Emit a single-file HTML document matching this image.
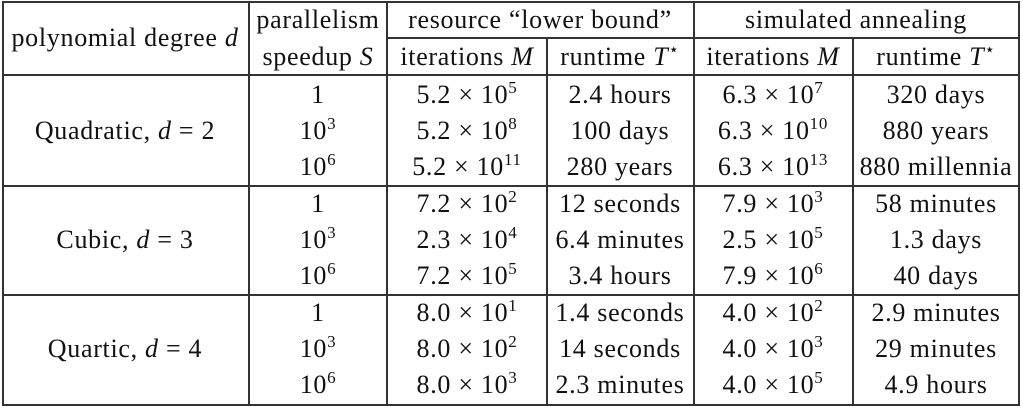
<!DOCTYPE html>
<html><head><meta charset="utf-8"><style>
body{margin:0;width:1023px;height:408px;background:#fff;overflow:hidden;position:relative;font-family:"Liberation Serif",serif;font-size:26px;color:#111}
.h,.v{position:absolute;background:#333}
.h{height:2px}.v{width:2px}
.t{position:absolute;height:30px;line-height:30px;text-align:center;white-space:nowrap;transform:translate(-50%,-50%);font-family:"Liberation Serif",serif;letter-spacing:0.7px}
sup{font-size:17px;vertical-align:10px;line-height:0}
i{font-family:"Liberation Serif",serif}
</style></head><body>
<div class="h" style="left:2px;width:1018px;top:1px"></div>
<div class="h" style="left:387px;width:633px;top:37px"></div>
<div class="h" style="left:2px;width:1018px;top:74px"></div>
<div class="h" style="left:2px;width:1018px;top:185px"></div>
<div class="h" style="left:2px;width:1018px;top:294px"></div>
<div class="h" style="left:2px;width:1018px;top:404px"></div>
<div class="v" style="left:2px;top:1px;height:405px"></div>
<div class="v" style="left:248px;top:1px;height:405px"></div>
<div class="v" style="left:386px;top:1px;height:405px"></div>
<div class="v" style="left:546px;top:37px;height:369px"></div>
<div class="v" style="left:693px;top:1px;height:405px"></div>
<div class="v" style="left:852px;top:37px;height:369px"></div>
<div class="v" style="left:1018px;top:1px;height:405px"></div>

<div class="t" style="left:125px;top:38px">polynomial degree <i>d</i></div>
<div class="t" style="left:318px;top:20px">parallelism</div>
<div class="t" style="left:318px;top:57px">speedup <i>S</i></div>
<div class="t" style="left:540px;top:20px">resource “lower bound”</div>
<div class="t" style="left:856px;top:20px">simulated annealing</div>
<div class="t" style="left:467px;top:57px">iterations <i>M</i></div>
<div class="t" style="left:620px;top:57px">runtime <i>T</i><sup>⋆</sup></div>
<div class="t" style="left:773px;top:57px">iterations <i>M</i></div>
<div class="t" style="left:936px;top:57px">runtime <i>T</i><sup>⋆</sup></div>

<div class="t" style="left:125px;top:131px">Quadratic, <i>d</i> = 2</div>
<div class="t" style="left:125px;top:240px">Cubic, <i>d</i> = 3</div>
<div class="t" style="left:125px;top:349px">Quartic, <i>d</i> = 4</div>

<div class="t" style="left:318px;top:95px">1</div>
<div class="t" style="left:318px;top:131px">10<sup>3</sup></div>
<div class="t" style="left:318px;top:167px">10<sup>6</sup></div>
<div class="t" style="left:318px;top:204px">1</div>
<div class="t" style="left:318px;top:240px">10<sup>3</sup></div>
<div class="t" style="left:318px;top:276px">10<sup>6</sup></div>
<div class="t" style="left:318px;top:313px">1</div>
<div class="t" style="left:318px;top:349px">10<sup>3</sup></div>
<div class="t" style="left:318px;top:385px">10<sup>6</sup></div>

<div class="t" style="left:467px;top:95px">5.2 × 10<sup>5</sup></div>
<div class="t" style="left:467px;top:131px">5.2 × 10<sup>8</sup></div>
<div class="t" style="left:467px;top:167px">5.2 × 10<sup>11</sup></div>
<div class="t" style="left:467px;top:204px">7.2 × 10<sup>2</sup></div>
<div class="t" style="left:467px;top:240px">2.3 × 10<sup>4</sup></div>
<div class="t" style="left:467px;top:276px">7.2 × 10<sup>5</sup></div>
<div class="t" style="left:467px;top:313px">8.0 × 10<sup>1</sup></div>
<div class="t" style="left:467px;top:349px">8.0 × 10<sup>2</sup></div>
<div class="t" style="left:467px;top:385px">8.0 × 10<sup>3</sup></div>

<div class="t" style="left:620px;top:95px">2.4 hours</div>
<div class="t" style="left:620px;top:131px">100 days</div>
<div class="t" style="left:620px;top:167px">280 years</div>
<div class="t" style="left:620px;top:204px">12 seconds</div>
<div class="t" style="left:620px;top:240px">6.4 minutes</div>
<div class="t" style="left:620px;top:276px">3.4 hours</div>
<div class="t" style="left:620px;top:313px">1.4 seconds</div>
<div class="t" style="left:620px;top:349px">14 seconds</div>
<div class="t" style="left:620px;top:385px">2.3 minutes</div>

<div class="t" style="left:773px;top:95px">6.3 × 10<sup>7</sup></div>
<div class="t" style="left:773px;top:131px">6.3 × 10<sup>10</sup></div>
<div class="t" style="left:773px;top:167px">6.3 × 10<sup>13</sup></div>
<div class="t" style="left:773px;top:204px">7.9 × 10<sup>3</sup></div>
<div class="t" style="left:773px;top:240px">2.5 × 10<sup>5</sup></div>
<div class="t" style="left:773px;top:276px">7.9 × 10<sup>6</sup></div>
<div class="t" style="left:773px;top:313px">4.0 × 10<sup>2</sup></div>
<div class="t" style="left:773px;top:349px">4.0 × 10<sup>3</sup></div>
<div class="t" style="left:773px;top:385px">4.0 × 10<sup>5</sup></div>

<div class="t" style="left:936px;top:95px">320 days</div>
<div class="t" style="left:936px;top:131px">880 years</div>
<div class="t" style="left:936px;top:167px">880 millennia</div>
<div class="t" style="left:936px;top:204px">58 minutes</div>
<div class="t" style="left:936px;top:240px">1.3 days</div>
<div class="t" style="left:936px;top:276px">40 days</div>
<div class="t" style="left:936px;top:313px">2.9 minutes</div>
<div class="t" style="left:936px;top:349px">29 minutes</div>
<div class="t" style="left:936px;top:385px">4.9 hours</div>
</body></html>
